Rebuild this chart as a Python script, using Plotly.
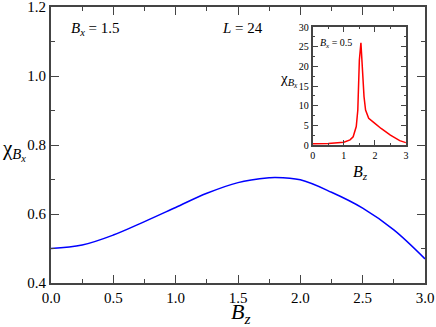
import plotly.graph_objects as go

# main curve, B_x = 1.5
bz_main = [0.0, 0.25, 0.5, 0.75, 1.0, 1.25, 1.5, 1.75, 1.8, 2.0, 2.25, 2.5, 2.75, 3.0]
chi_main = [0.500, 0.510, 0.539, 0.578, 0.619, 0.660, 0.691, 0.705, 0.706, 0.699, 0.663, 0.617, 0.554, 0.470]

# inset curve, B_x = 0.5
bz_inset = [0.0, 0.5, 1.0, 1.2, 1.3, 1.4, 1.45, 1.5, 1.55, 1.6, 1.65, 1.7, 1.8, 2.0, 2.2, 2.5, 2.8, 3.0]
chi_inset = [0.3, 0.4, 0.7, 1.3, 2.1, 4.7, 8.9, 21.6, 26.0, 19.0, 12.3, 8.9, 6.8, 5.5, 4.2, 2.5, 1.1, 0.6]

main_xticks = [0.0, 0.5, 1.0, 1.5, 2.0, 2.5, 3.0]
main_yticks = [0.4, 0.6, 0.8, 1.0, 1.2]
inset_xticks = [0, 1, 2, 3]
inset_yticks = [0, 5, 10, 15, 20, 25, 30]

SERIF = "Liberation Serif"
AXCOL = "#444444"

fig = go.Figure()
fig.add_trace(go.Scatter(x=bz_main, y=chi_main, mode="lines", line_shape="spline",
                         line=dict(color="#0000ff", width=1.5)))
fig.add_trace(go.Scatter(x=bz_inset, y=chi_inset, mode="lines", xaxis="x2", yaxis="y2",
                         line=dict(color="#ff0000", width=1.5)))

def axis_style(vals, fmt, size, ticklen, minor_dtick, rng):
    return dict(
        range=rng, tickvals=vals, ticktext=[fmt.format(v) for v in vals],
        ticks="inside", ticklen=ticklen, tickwidth=1, tickcolor=AXCOL,
        showline=True, linecolor=AXCOL, linewidth=2, mirror="allticks",
        showgrid=False, zeroline=False, automargin=False, ticklabeloverflow="allow",
        tickfont=dict(family=SERIF, size=size, color="black"),
        minor=dict(ticks="inside", ticklen=ticklen // 2, dtick=minor_dtick, tickcolor=AXCOL, showgrid=False),
    )

fig.update_layout(
    width=436, height=327,
    margin=dict(l=51, r=11, t=7, b=44, pad=0, autoexpand=False),
    paper_bgcolor="white", plot_bgcolor="white",
    showlegend=False,
    font=dict(family=SERIF, size=15, color="black"),
    xaxis=dict(axis_style(main_xticks, "{:.1f}", 15, 8, 0.25, [0, 3]), domain=[0, 1]),
    yaxis=dict(axis_style(main_yticks, "{:.1f}", 15, 8, 0.1, [0.4, 1.2]), domain=[0, 1]),
    xaxis2=dict(axis_style(inset_xticks, "{}", 10, 5, 0.5, [0, 3]),
                domain=[0.70, 0.949], anchor="y2"),
    yaxis2=dict(axis_style(inset_yticks, "{}", 10, 5, 2.5, [0, 30]),
                domain=[0.5, 0.9275], anchor="x2"),
)

def label(text, x, y, size, xref="paper", yref="paper"):
    fig.add_annotation(text=text, x=x, y=y, xref=xref, yref=yref, showarrow=False,
                       font=dict(family=SERIF, size=size, color="black"),
                       xanchor="left", yanchor="middle")

# texts in pixel-like paper coords
def px(xp, yp):
    return (xp - 51) / 374, (283 - yp) / 276

x, y = px(69, 29)
label("<i>B</i><sub><i>x</i></sub> = 1.5", x, y, 15)
x, y = px(220, 28)
label("<i>L</i> = 24", x, y, 15)
x, y = px(318, 43)
label("<i>B</i><sub><i>x</i></sub> = 0.5", x, y, 10)
x, y = px(0, 150)
label("χ<sub><i>B</i><sub><i>x</i></sub></sub>", x, y, 21)
x, y = px(278, 80)
label("χ<sub><i>B</i><sub><i>x</i></sub></sub>", x, y, 15)
x, y = px(229, 313)
label("<i>B</i><sub><i>z</i></sub>", x, y, 22)
x, y = px(351, 172)
label("<i>B</i><sub><i>z</i></sub>", x, y, 16)

# page body has a default margin; drop it so the figure sits at the corner
fig.write_html("out.html", config={"displayModeBar": False},
               post_script="document.body.style.margin='0';")
